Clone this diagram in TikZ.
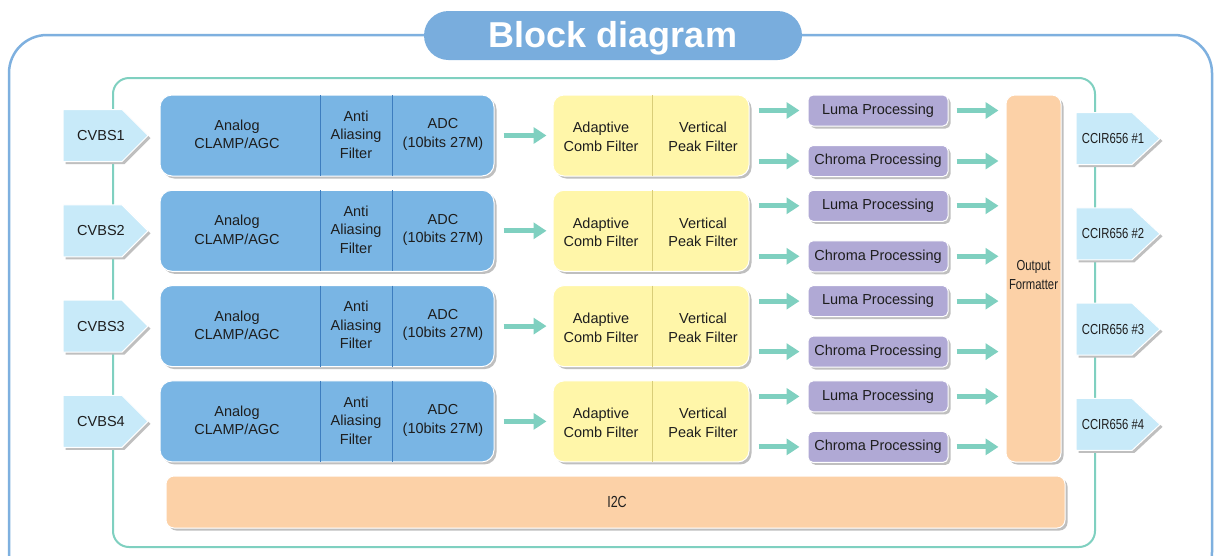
\documentclass[tikz,border=0pt]{standalone}
\usepackage{fontspec}
\setmainfont{Liberation Sans}
\newfontfamily\narrowfont[FakeStretch=0.78]{Liberation Sans}
\usetikzlibrary{arrows.meta,shadows,calc}
\definecolor{outerblue}{HTML}{7EB0DF}
\definecolor{titleblue}{HTML}{79ADDD}
\definecolor{tealc}{HTML}{7FD0C0}
\definecolor{blk}{HTML}{79B5E4}
\definecolor{blkline}{HTML}{3D7DBF}
\definecolor{yel}{HTML}{FFF6A9}
\definecolor{yelline}{HTML}{D9CD78}
\definecolor{pur}{HTML}{B0A9D5}
\definecolor{ora}{HTML}{FCD1A7}
\definecolor{sig}{HTML}{C8EAF9}
\definecolor{txt}{HTML}{1E1E1E}
\begin{document}
\begin{tikzpicture}[x=1pt,y=-1pt,
 shad/.style={drop shadow={shadow xshift=2.5pt,shadow yshift=-2.5pt,fill=black!25,opacity=1}},
 box/.style={shad,draw=white,line width=1pt,inner sep=0pt,text=txt},
 bluebox/.style={box,fill=blk,rounded corners=12pt,minimum width=334pt,minimum height=81pt},
 yelbox/.style={box,fill=yel,rounded corners=11pt,minimum width=196pt,minimum height=81pt},
 purbox/.style={box,fill=pur,rounded corners=5pt,minimum width=140pt,minimum height=31pt,font=\fontsize{14.5}{17}\selectfont},
 orabox/.style={box,fill=ora,rounded corners=9pt},
 sigshape/.style={shad,fill=sig,draw=white,line width=1pt},
 lbl/.style={font=\fontsize{14.5}{18.5}\selectfont,align=center,text=txt,inner sep=0pt},
 nlbl/.style={font=\narrowfont\fontsize{14.5}{19}\selectfont,align=center,text=txt,inner sep=0pt},
 arr/.style={draw=tealc,line width=5pt,-{Triangle[width=16pt,length=13pt]}},
]
\useasboundingbox (0,0) rectangle (1214,555);
\clip (0,0) rectangle (1214,555);
\fill[white] (0,0) rectangle (1214,555);
% outer frame and title
\draw[outerblue,line width=2.5pt,rounded corners=38pt] (9,35) rectangle (1212,590);
\node[fill=titleblue,rounded corners=24.5pt,minimum width=378pt,minimum height=49pt,inner sep=0pt] (title) at (613,35.5) {};
\node[text=white,inner sep=0pt,font=\bfseries\fontsize{36}{40}\selectfont] (titlet) at (613,38) {Block diagram};
% inner frame
\draw[tealc,line width=2pt,rounded corners=16pt] (113,78) rectangle (1095,547);
% output formatter and I2C
\node[orabox,minimum width=55pt,minimum height=367pt] (of) at (1033.5,278.5) {};
\node[nlbl] (oft) at (1033.5,275) {Output\\Formatter};
\node[orabox,rounded corners=8pt,minimum width=899pt,minimum height=52pt] (i2c) at (615.5,502) {};
\node[nlbl,font=\narrowfont\fontsize{16}{19}\selectfont] (i2ct) at (617,502) {I2C};
% rows
\foreach \i/\c in {1/135.5,2/230.8,3/326.1,4/421.4}{
  % input signal
  \filldraw[sigshape] (63,\c-26) -- (122,\c-26) -- (148,\c) -- (122,\c+26) -- (63,\c+26) -- cycle;
  \node[lbl] (cv\i) at (101,\c) {CVBS\i};
  % analog front end
  \node[bluebox] (b\i) at (327,\c) {};
  \draw[blkline,line width=1pt] ([xshift=-7pt,yshift=-0.5pt]b\i.north) -- ([xshift=-7pt,yshift=0.5pt]b\i.south);
  \draw[blkline,line width=1pt] ([xshift=65pt,yshift=-0.5pt]b\i.north) -- ([xshift=65pt,yshift=0.5pt]b\i.south);
  \node[lbl] (an\i) at (237,\c-1) {Analog\\CLAMP/AGC};
  \node[lbl] (aa\i) at (356,\c-1) {Anti\\Aliasing\\Filter};
  \node[lbl] (ad\i) at (443,\c-1) {ADC\\(10bits 27M)};
  % comb / peak filter
  \node[yelbox] (y\i) at (651,\c) {};
  \draw[yelline,line width=1pt] ([xshift=1pt,yshift=-0.5pt]y\i.north) -- ([xshift=1pt,yshift=0.5pt]y\i.south);
  \node[lbl] (ac\i) at (601,\c+1.5) {Adaptive\\Comb Filter};
  \node[lbl] (vp\i) at (703,\c+1.5) {Vertical\\Peak Filter};
  % luma / chroma
  \node[purbox] (l\i) at (878,\c-25) {Luma Processing};
  \node[purbox] (ch\i) at (878,\c+25.5) {Chroma Processing};
  % output signal
  \filldraw[sigshape] (1076,\c-23) -- (1132,\c-23) -- (1160,\c+3) -- (1132,\c+29) -- (1076,\c+29) -- cycle;
  \node[nlbl] (cc\i) at (1113,\c+3) {CCIR656 \#\i};
  % connectors
  \draw[arr] ([xshift=9pt]b\i.east) -- ([xshift=-6pt]y\i.west |- b\i.east);
  \draw[arr] ($(y\i.east |- l\i.west)+(9,0)$) -- ([xshift=-8pt]l\i.west);
  \draw[arr] ($(y\i.east |- ch\i.west)+(9,0)$) -- ([xshift=-8pt]ch\i.west);
  \draw[arr] ([xshift=8pt]l\i.east) -- ($(of.west |- l\i.east)+(-7,0)$);
  \draw[arr] ([xshift=8pt]ch\i.east) -- ($(of.west |- ch\i.east)+(-7,0)$);
}
\end{tikzpicture}
\end{document}
